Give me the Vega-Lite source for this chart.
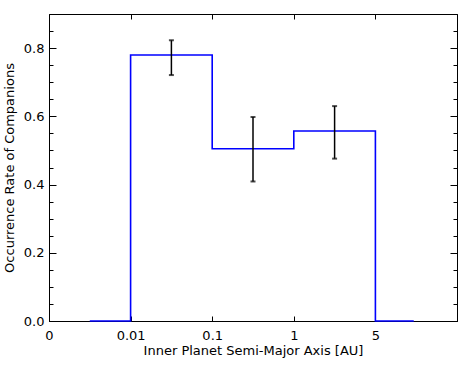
{
  "$schema": "https://vega.github.io/schema/vega-lite/v6.json",
  "width": 408,
  "height": 307,
  "autosize": "none",
  "padding": {"left": 49, "top": 14, "right": 11, "bottom": 46},
  "background": "white",
  "config": {
    "view": {"stroke": "black", "strokeWidth": 1},
    "axis": {
      "grid": false,
      "domainColor": "black",
      "tickColor": "black",
      "labelColor": "black",
      "titleColor": "black",
      "labelFont": "DejaVu Sans",
      "titleFont": "DejaVu Sans",
      "labelFontSize": 13,
      "titleFontSize": 13,
      "titleFontWeight": "normal",
      "tickWidth": 1,
      "domainWidth": 1
    }
  },
  "datasets": {
    "hist": [
      {"a": 0.5, "rate": 0},
      {"a": 1, "rate": 0.78},
      {"a": 2, "rate": 0.505},
      {"a": 3, "rate": 0.557},
      {"a": 4, "rate": 0},
      {"a": 4.47, "rate": 0}
    ],
    "err": [
      {"a": 1.5, "lo": 0.721, "hi": 0.823},
      {"a": 2.5, "lo": 0.409, "hi": 0.598},
      {"a": 3.5, "lo": 0.476, "hi": 0.63}
    ]
  },
  "layer": [
    {
      "data": {"name": "hist"},
      "mark": {"type": "line", "interpolate": "step-after", "color": "#0000ff", "strokeWidth": 1.6},
      "encoding": {
        "x": {
          "field": "a", "type": "quantitative",
          "scale": {"domain": [0, 5], "nice": false, "zero": false},
          "axis": {
            "orient": "bottom",
            "values": [0, 1, 2, 3, 4],
            "labelExpr": "datum.value == 0 ? '0' : datum.value == 1 ? '0.01' : datum.value == 2 ? '0.1' : datum.value == 3 ? '1' : '5'",
            "tickSize": -5,
            "labelPadding": 13,
            "labelFlush": false,
            "title": "Inner Planet Semi-Major Axis [AU]",
            "titlePadding": 2
          }
        },
        "y": {
          "field": "rate", "type": "quantitative",
          "scale": {"domain": [0, 0.9], "nice": false},
          "axis": {
            "orient": "left",
            "values": [0, 0.2, 0.4, 0.6, 0.8],
            "format": ".1f",
            "tickSize": -7,
            "labelPadding": 12,
            "labelFlush": false,
            "title": "Occurrence Rate of Companions",
            "titlePadding": 7
          }
        }
      }
    },
    {
      "data": {"name": "err"},
      "mark": {"type": "rule", "color": "black", "strokeWidth": 1.5},
      "encoding": {
        "x": {
          "field": "a", "type": "quantitative",
          "axis": {"orient": "top", "values": [1, 2, 3, 4], "tickSize": -5, "labels": false, "title": null}
        },
        "y": {
          "field": "lo", "type": "quantitative",
          "axis": {"orient": "right", "values": [0, 0.2, 0.4, 0.6, 0.8], "tickSize": -7, "labels": false, "title": null}
        },
        "y2": {"field": "hi"}
      }
    },
    {
      "data": {"name": "err"},
      "mark": {"type": "tick", "orient": "horizontal", "color": "black", "size": 5, "thickness": 2},
      "encoding": {
        "x": {"field": "a", "type": "quantitative", "axis": null},
        "y": {
          "field": "hi", "type": "quantitative",
          "axis": {"orient": "left", "values": [0.05, 0.1, 0.15, 0.25, 0.3, 0.35, 0.45, 0.5, 0.55, 0.65, 0.7, 0.75, 0.85], "tickSize": -4, "labels": false, "domain": false, "title": null}
        }
      }
    },
    {
      "data": {"name": "err"},
      "mark": {"type": "tick", "orient": "horizontal", "color": "black", "size": 5, "thickness": 2},
      "encoding": {
        "x": {"field": "a", "type": "quantitative", "axis": null},
        "y": {
          "field": "lo", "type": "quantitative",
          "axis": {"orient": "right", "values": [0.05, 0.1, 0.15, 0.25, 0.3, 0.35, 0.45, 0.5, 0.55, 0.65, 0.7, 0.75, 0.85], "tickSize": -4, "labels": false, "domain": false, "title": null}
        }
      }
    }
  ],
  "resolve": {"axis": {"x": "independent", "y": "independent"}}
}
